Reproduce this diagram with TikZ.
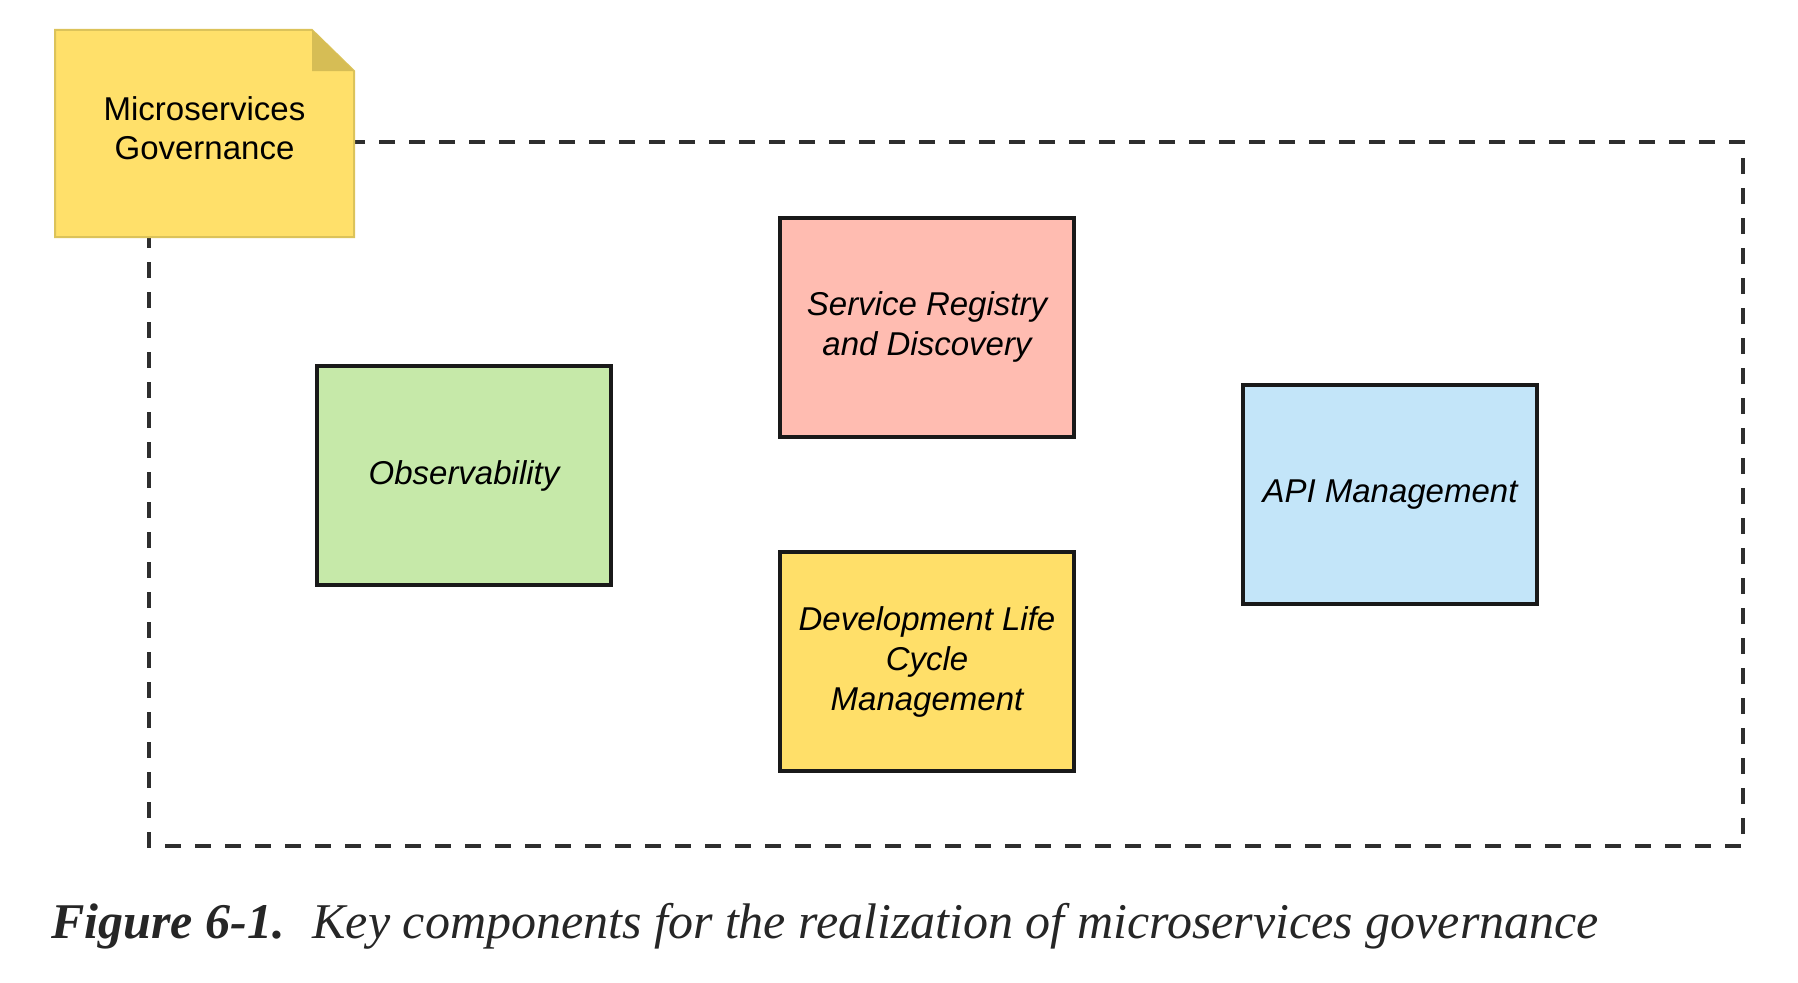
\documentclass[tikz,border=0pt]{standalone}
\usepackage{fontspec}
\setmainfont{Liberation Serif}
\newfontfamily\boxfont{Liberation Sans}
\definecolor{notefill}{HTML}{FFE06A}
\definecolor{noteedge}{HTML}{DCC35A}
\definecolor{notefold}{HTML}{D6BD55}
\definecolor{obsfill}{HTML}{C6E9A9}
\definecolor{regfill}{HTML}{FFBCB1}
\definecolor{devfill}{HTML}{FFDF69}
\definecolor{apifill}{HTML}{C3E5F9}
\definecolor{dashgray}{HTML}{2E2E2E}

\tikzstyle{unit}=[rectangle, minimum width=294pt, minimum height=219pt, draw=black!90, line width=4pt, inner sep=0pt, align=center, font=\boxfont\itshape\fontsize{33}{40}\selectfont]

\begin{document}
\begin{tikzpicture}[x=1pt, y=-1pt, frame/.style = {draw=dashgray, line width=4pt, dash pattern=on 16pt off 14pt}, note/.style = {fill=notefill, draw=noteedge, line width=2pt}]
    \useasboundingbox (0,0) rectangle (1798,982);

    \draw[frame] (149,142) rectangle (1743,846);

    \draw[note] (55,30) -- (312,30) -- (354,71) -- (354,237) -- (55,237) -- cycle;
    \fill[notefold] (312,30) -- (312,71) -- (354,71) -- cycle;
    \node (gov) [align=center, font=\boxfont\fontsize{33}{39}\selectfont] at (204.5,128) {Microservices\\Governance};

    \node (obs) [unit, fill=obsfill] at (464,475.5) {Observability};
    \node (reg) [unit, fill=regfill] at (927,327) {Service Registry\\and Discovery};
    \node (dev) [unit, fill=devfill] at (927,661.5) {Development Life\\Cycle\\Management};
    \node (api) [unit, fill=apifill] at (1390,494.5) {API Management};

    \node (cap) [anchor=base west, inner sep=0pt, text=black!85, font=\fontsize{50}{60}\selectfont\itshape] at (51,938) {\textbf{Figure 6-1.}\hspace{28pt}Key components for the realization of microservices governance};
  \end{tikzpicture}
\end{document}
